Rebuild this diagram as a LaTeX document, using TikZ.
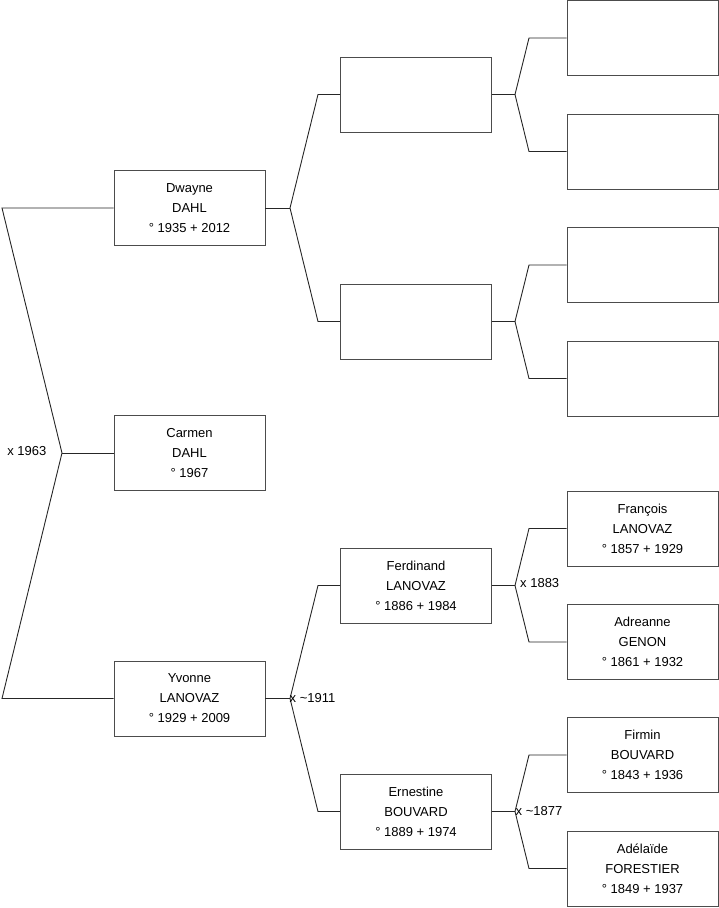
\documentclass[tikz,border=0pt]{standalone}
\usepackage{fontspec}
\setmainfont{Liberation Sans}
\begin{document}
\begin{tikzpicture}[x=1pt,y=-1pt,
 person/.style={draw=black!70, line width=0.9pt, minimum width=151pt, minimum height=75pt, inner sep=0pt, align=center, font=\fontsize{13}{20}\selectfont},
 link/.style={draw=black!85, line width=0.9pt},
 lbl/.style={font=\fontsize{13}{15}\selectfont, inner sep=0pt}]
\useasboundingbox (0,0) rectangle (719,908);
% level 1
\node[person] (carmen) at (189.5,453) {Carmen\\DAHL\\° 1967};
\node[person] (dwayne) at (189.5,208) {Dwayne\\DAHL\\° 1935 + 2012};
\node[person] (yvonne) at (189.5,698.5) {Yvonne\\LANOVAZ\\° 1929 + 2009};
% level 2
\node[person] (fa) at (416,94.5) {};
\node[person] (ma) at (416,321.5) {};
\node[person] (ferdinand) at (416,585.5) {Ferdinand\\LANOVAZ\\° 1886 + 1984};
\node[person] (ernestine) at (416,811.5) {Ernestine\\BOUVARD\\° 1889 + 1974};
% level 3
\node[person] (g1) at (642.5,38) {};
\node[person] (g2) at (642.5,151.5) {};
\node[person] (g3) at (642.5,265) {};
\node[person] (g4) at (642.5,378.5) {};
\node[person] (francois) at (642.5,528.5) {François\\LANOVAZ\\° 1857 + 1929};
\node[person] (adreanne) at (642.5,642) {Adreanne\\GENON\\° 1861 + 1932};
\node[person] (firmin) at (642.5,755) {Firmin\\BOUVARD\\° 1843 + 1936};
\node[person] (adelaide) at (642.5,868.5) {Adélaïde\\FORESTIER\\° 1849 + 1937};
% junctions
\coordinate (j0) at (62,453);
\coordinate (t0) at (2,208);
\coordinate (b0) at (2,698.5);
\coordinate (j1) at (290,208);
\coordinate (t1) at (318,94.5);
\coordinate (b1) at (318,321.5);
\coordinate (j2) at (290,698.5);
\coordinate (t2) at (318,585.5);
\coordinate (b2) at (318,811.5);
\coordinate (j3) at (515,94.5);
\coordinate (t3) at (529,38);
\coordinate (b3) at (529,151.5);
\coordinate (j4) at (515,321.5);
\coordinate (t4) at (529,265);
\coordinate (b4) at (529,378.5);
\coordinate (j5) at (515,585.5);
\coordinate (t5) at (529,528.5);
\coordinate (b5) at (529,642);
\coordinate (j6) at (515,811.5);
\coordinate (t6) at (529,755);
\coordinate (b6) at (529,868.5);
% connectors
\draw[link] (carmen.west) -- (j0);
\draw[link] (dwayne.west) -- (t0) -- (j0) -- (b0) -- (yvonne.west);
\draw[link] (dwayne.east) -- (j1);
\draw[link] (fa.west) -- (t1) -- (j1) -- (b1) -- (ma.west);
\draw[link] (yvonne.east) -- (j2);
\draw[link] (ferdinand.west) -- (t2) -- (j2) -- (b2) -- (ernestine.west);
\draw[link] (fa.east) -- (j3);
\draw[link] (g1.west) -- (t3) -- (j3) -- (b3) -- (g2.west);
\draw[link] (ma.east) -- (j4);
\draw[link] (g3.west) -- (t4) -- (j4) -- (b4) -- (g4.west);
\draw[link] (ferdinand.east) -- (j5);
\draw[link] (francois.west) -- (t5) -- (j5) -- (b5) -- (adreanne.west);
\draw[link] (ernestine.east) -- (j6);
\draw[link] (firmin.west) -- (t6) -- (j6) -- (b6) -- (adelaide.west);
% marriage labels
\node[lbl, anchor=east] (m0) at (46.5,451.5) {x 1963};
\node[lbl, anchor=west] (m2) at (289.5,698) {x \textasciitilde1911};
\node[lbl, anchor=west] (m5) at (520,583) {x 1883};
\node[lbl, anchor=west] (m6) at (515.5,811) {x \textasciitilde1877};
\end{tikzpicture}
\end{document}
